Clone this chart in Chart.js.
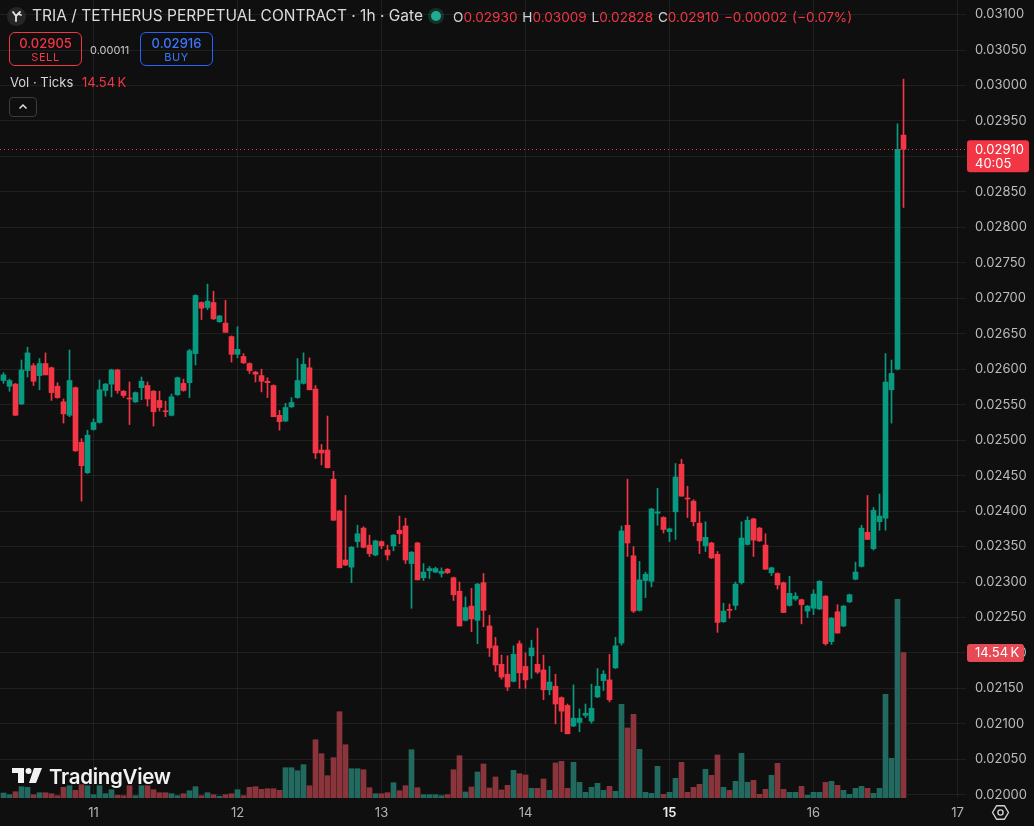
<!DOCTYPE html>
<html><head><meta charset="utf-8">
<script src="https://cdn.jsdelivr.net/npm/chart.js@4.4.1/dist/chart.umd.min.js"></script>
<style>
html,body{margin:0;padding:0;background:#0f0f0f;overflow:hidden;}
#wrap{position:relative;width:1034px;height:826px;}
#c{position:absolute;left:0;top:0;}
.ov{position:absolute;font-family:Inter,'Noto Sans',sans-serif;white-space:nowrap;}
.box{position:absolute;box-sizing:border-box;border-radius:6px;text-align:center;font-family:Inter,'Noto Sans',sans-serif;}
</style></head><body>
<div id="wrap">
<canvas id="c" width="1034" height="826"></canvas>

<div class="ov" style="left:7px;top:7px;width:19px;height:19px;border-radius:50%;background:#262626;">
 <svg width="19" height="19" viewBox="0 0 19 19"><path d="M6 5 L9 9 L9 14 M9 9 L13 5 M11 7 L14 8" stroke="#e6e6e6" stroke-width="1.8" fill="none" stroke-linecap="round"/></svg>
</div>
<div class="ov" style="left:32px;top:6px;font-size:15.5px;line-height:20px;color:#dcdcdc;">TRIA / TETHERUS PERPETUAL CONTRACT · 1h · Gate</div>
<div class="ov" style="left:431px;top:11px;width:10px;height:10px;border-radius:50%;background:#22ab94;box-shadow:0 0 0 3px rgba(34,171,148,0.22);"></div>
<div class="ov" id="ohlc" style="left:453px;top:7px;font-size:13.6px;line-height:20px;color:#d1d4dc;word-spacing:1px;"></div>

<div class="box" style="left:9px;top:32px;width:73px;height:34px;border:1px solid #f23645;">
 <div id="sellP" style="font-size:13px;font-weight:500;color:#f23645;line-height:14px;margin-top:3px;">0.02905</div>
 <div style="font-size:11px;color:#f23645;line-height:13px;margin-top:1px;letter-spacing:0.6px;">SELL</div>
</div>
<div class="ov" style="left:90px;top:43px;font-size:11px;line-height:14px;color:#c8c8c8;">0.00011</div>
<div class="box" style="left:140px;top:32px;width:73px;height:34px;border:1px solid #2962ff;">
 <div id="buyP" style="font-size:13px;font-weight:500;color:#3b78ff;line-height:14px;margin-top:3px;">0.02916</div>
 <div style="font-size:11px;color:#3b78ff;line-height:13px;margin-top:1px;letter-spacing:0.6px;">BUY</div>
</div>
<div class="ov" style="left:10px;top:74px;font-size:13px;line-height:16px;color:#d6d6d6;">Vol · Ticks <span id="volTxt" style="color:#f23645;margin-left:5px;"></span></div>
<div class="ov" style="left:9px;top:97px;width:28px;height:20px;box-sizing:border-box;border:1px solid #3c3c3c;border-radius:4px;">
 <svg width="26" height="18" viewBox="0 0 26 18"><path d="M9.5 10.5 L13 7 L16.5 10.5" stroke="#e0e0e0" stroke-width="1.5" fill="none"/></svg>
</div>

<div class="ov" style="left:12px;top:768px;">
 <svg width="32" height="16" viewBox="0 0 32 16"><path d="M0 0 H12 V15 H6 V5 H0 Z" fill="#f2f2f2"/><circle cx="16.5" cy="3" r="3" fill="#f2f2f2"/><path d="M22 0 H30 L24 15 H17 Z" fill="#f2f2f2"/></svg>
</div>
<div class="ov" style="left:49px;top:764px;font-size:20.5px;font-weight:600;line-height:26px;color:#f2f2f2;letter-spacing:-0.3px;">TradingView</div>

<div class="ov" style="left:991px;top:803px;">
 <svg width="19" height="19" viewBox="0 0 19 19"><path d="M5.5 2.8 H13.5 L17.5 9.5 L13.5 16.2 H5.5 L1.5 9.5 Z" stroke="#d0d0d0" stroke-width="1.4" fill="none" stroke-linejoin="round"/><circle cx="9.5" cy="9.5" r="2.6" stroke="#d0d0d0" stroke-width="1.4" fill="none"/></svg>
</div>
</div>

<script>
// ---- data (1h candles, first candle = day 10, 09:00) ----
const dayLabels = ['11','12','13','14','15','16','17'];
const firstCandleHour = 9;
const priceTicks = [0.02000,0.02050,0.02100,0.02150,0.02200,0.02250,0.02300,0.02350,0.02400,0.02450,0.02500,0.02550,0.02600,0.02650,0.02700,0.02750,0.02800,0.02850,0.02900,0.02950,0.03000,0.03050,0.03100];

const opens = [
0.02584,0.02576,0.02579,0.02551,0.02598,0.02605,0.02591,0.02608,0.02602,0.02576,
0.02554,0.02535,0.02574,0.02497,0.02454,0.02515,0.02525,0.02570,0.02579,0.02599,
0.02569,0.02559,0.02554,0.02574,0.02577,0.02569,0.02556,0.02541,0.02535,0.02564,
0.02580,0.02581,0.02622,0.02694,0.02687,0.02694,0.02667,0.02665,0.02646,0.02621,
0.02618,0.02608,0.02596,0.02591,0.02583,0.02577,0.02535,0.02527,0.02547,0.02560,
0.02580,0.02602,0.02572,0.02486,0.02486,0.02445,0.02400,0.02331,0.02321,0.02357,
0.02376,0.02352,0.02338,0.02357,0.02345,0.02351,0.02373,0.02379,0.02326,0.02355,
0.02306,0.02316,0.02314,0.02312,0.02318,0.02306,0.02287,0.02246,0.02266,0.02246,
0.02299,0.02238,0.02210,0.02184,0.02170,0.02160,0.02213,0.02181,0.02196,0.02184,
0.02176,0.02148,0.02153,0.02137,0.02126,0.02097,0.02102,0.02112,0.02104,0.02138,
0.02161,0.02162,0.02179,0.02214,0.02380,0.02337,0.02260,0.02302,0.02301,0.02397,
0.02391,0.02371,0.02399,0.02466,0.02418,0.02414,0.02383,0.02351,0.02355,0.02339,
0.02244,0.02261,0.02267,0.02299,0.02353,0.02389,0.02376,0.02352,0.02313,0.02312,
0.02299,0.02267,0.02276,0.02275,0.02259,0.02263,0.02262,0.02280,0.02216,0.02258,
0.02238,0.02272,0.02304,0.02322,0.02370,0.02347,0.02385,0.02390,0.02571,0.02600,
0.02930];
const highs = [
0.02595,0.02586,0.02580,0.02613,0.02631,0.02608,0.02615,0.02623,0.02603,0.02581,
0.02558,0.02627,0.02575,0.02502,0.02514,0.02530,0.02585,0.02580,0.02600,0.02600,
0.02570,0.02582,0.02568,0.02589,0.02582,0.02570,0.02569,0.02555,0.02565,0.02589,
0.02586,0.02628,0.02705,0.02695,0.02720,0.02710,0.02676,0.02697,0.02647,0.02660,
0.02622,0.02609,0.02597,0.02600,0.02588,0.02578,0.02542,0.02552,0.02560,0.02615,
0.02623,0.02616,0.02577,0.02494,0.02534,0.02456,0.02401,0.02422,0.02350,0.02380,
0.02378,0.02366,0.02359,0.02358,0.02352,0.02367,0.02393,0.02390,0.02343,0.02356,
0.02326,0.02322,0.02321,0.02320,0.02319,0.02307,0.02300,0.02279,0.02291,0.02298,
0.02312,0.02253,0.02222,0.02197,0.02196,0.02210,0.02217,0.02200,0.02218,0.02235,
0.02197,0.02181,0.02170,0.02138,0.02128,0.02155,0.02121,0.02128,0.02156,0.02178,
0.02175,0.02198,0.02222,0.02379,0.02445,0.02350,0.02329,0.02314,0.02404,0.02432,
0.02392,0.02376,0.02467,0.02473,0.02435,0.02416,0.02399,0.02385,0.02356,0.02343,
0.02270,0.02269,0.02300,0.02385,0.02392,0.02390,0.02377,0.02368,0.02321,0.02313,
0.02300,0.02308,0.02285,0.02276,0.02267,0.02289,0.02302,0.02281,0.02250,0.02268,
0.02267,0.02283,0.02328,0.02380,0.02422,0.02405,0.02424,0.02622,0.02613,0.02946,
0.03009];
const lows = [
0.02580,0.02569,0.02535,0.02550,0.02589,0.02577,0.02571,0.02592,0.02556,0.02559,
0.02524,0.02533,0.02484,0.02414,0.02453,0.02514,0.02524,0.02562,0.02561,0.02566,
0.02560,0.02522,0.02553,0.02557,0.02548,0.02520,0.02541,0.02533,0.02534,0.02563,
0.02569,0.02560,0.02606,0.02670,0.02684,0.02670,0.02666,0.02652,0.02610,0.02616,
0.02608,0.02594,0.02582,0.02568,0.02560,0.02533,0.02514,0.02526,0.02546,0.02559,
0.02579,0.02571,0.02474,0.02465,0.02461,0.02387,0.02320,0.02323,0.02299,0.02349,
0.02348,0.02336,0.02337,0.02347,0.02331,0.02344,0.02354,0.02326,0.02263,0.02303,
0.02302,0.02305,0.02313,0.02307,0.02312,0.02274,0.02238,0.02245,0.02230,0.02213,
0.02237,0.02195,0.02174,0.02163,0.02147,0.02159,0.02150,0.02150,0.02164,0.02171,
0.02134,0.02141,0.02100,0.02089,0.02086,0.02096,0.02089,0.02109,0.02101,0.02137,
0.02147,0.02131,0.02178,0.02211,0.02336,0.02257,0.02259,0.02278,0.02293,0.02380,
0.02369,0.02357,0.02360,0.02421,0.02391,0.02379,0.02340,0.02343,0.02333,0.02229,
0.02243,0.02249,0.02261,0.02297,0.02352,0.02336,0.02357,0.02318,0.02309,0.02290,
0.02257,0.02266,0.02274,0.02241,0.02250,0.02254,0.02261,0.02211,0.02212,0.02228,
0.02237,0.02271,0.02303,0.02321,0.02360,0.02345,0.02373,0.02373,0.02524,0.02599,
0.02828];
const closes = [
0.02592,0.02584,0.02535,0.02599,0.02623,0.02583,0.02608,0.02592,0.02567,0.02560,
0.02537,0.02584,0.02485,0.02464,0.02507,0.02525,0.02571,0.02579,0.02599,0.02570,
0.02563,0.02558,0.02567,0.02583,0.02558,0.02540,0.02546,0.02540,0.02561,0.02588,
0.02570,0.02626,0.02704,0.02686,0.02696,0.02671,0.02675,0.02652,0.02621,0.02628,
0.02609,0.02598,0.02593,0.02583,0.02581,0.02533,0.02526,0.02546,0.02553,0.02584,
0.02607,0.02571,0.02482,0.02482,0.02461,0.02387,0.02320,0.02324,0.02349,0.02368,
0.02349,0.02340,0.02358,0.02351,0.02338,0.02366,0.02368,0.02331,0.02342,0.02303,
0.02314,0.02319,0.02319,0.02315,0.02313,0.02282,0.02238,0.02264,0.02248,0.02297,
0.02260,0.02207,0.02183,0.02166,0.02152,0.02198,0.02172,0.02162,0.02207,0.02173,
0.02148,0.02159,0.02128,0.02118,0.02086,0.02108,0.02108,0.02115,0.02122,0.02153,
0.02170,0.02134,0.02210,0.02372,0.02355,0.02259,0.02303,0.02311,0.02403,0.02399,
0.02374,0.02375,0.02448,0.02421,0.02417,0.02385,0.02358,0.02363,0.02334,0.02243,
0.02259,0.02260,0.02297,0.02362,0.02387,0.02359,0.02358,0.02318,0.02320,0.02296,
0.02257,0.02284,0.02280,0.02268,0.02266,0.02283,0.02301,0.02213,0.02249,0.02228,
0.02266,0.02282,0.02314,0.02376,0.02360,0.02401,0.02393,0.02582,0.02594,0.02910,
0.02910];
const volumes = [
500,330,630,1130,1070,330,530,530,430,230,
1070,1230,770,1330,1230,330,1230,430,830,270,
230,1230,230,1230,1230,830,530,530,430,230,
430,730,1130,230,530,330,170,330,430,830,
230,1070,1130,870,930,930,770,3030,3030,2730,
3330,1230,5830,4430,2230,4030,8630,5330,2930,2930,
2830,1030,430,430,530,1530,730,1230,4830,1030,
330,330,330,230,330,2830,4230,600,1100,2600,
3400,1000,2100,800,1270,2770,2430,2300,970,970,
1900,770,3500,3670,970,3570,1570,570,1070,1470,
770,1170,670,9370,7000,8370,4870,570,470,3170,
370,570,1970,3570,570,1070,1370,2870,2270,4300,
1070,770,1670,4470,1570,1770,370,870,2270,3470,
870,570,570,1170,270,570,570,1570,1670,1270,
770,370,970,1170,970,470,970,10370,3970,19870,
14540];
const countdown = '40:05';

// ---- styles ----
const UP = '#089981', DOWN = '#f23645';
const VUP = '#22695f', VDOWN = '#8a353b';
const FONT = 'Inter, "Noto Sans", sans-serif';
const last = closes.length - 1;
const isUp = i => closes[i] >= opens[i];

// header texts
const f5 = v => v.toFixed(5);
document.getElementById('ohlc').innerHTML =
  'O<span style="color:#f23645">' + f5(opens[last]) + '</span> ' +
  'H<span style="color:#f23645">' + f5(highs[last]) + '</span> ' +
  'L<span style="color:#f23645">' + f5(lows[last]) + '</span> ' +
  'C<span style="color:#f23645">' + f5(closes[last]) + '</span> ' +
  '<span style="color:#f23645">\u22120.00002 (\u22120.07%)</span>';
const volK = (volumes[last] / 1000).toFixed(2) + '\u202fK';
document.getElementById('volTxt').textContent = volK;

const idx = opens.map((_, i) => i);
const bodies = idx.map(i => ({x: i, y: [opens[i], closes[i]]}));
const wicks = idx.map(i => ({x: i, y: [lows[i], highs[i]]}));
const vols = idx.map(i => ({x: i, y: volumes[i]}));
const dayTickPos = dayLabels.map((_, k) => (24 - firstCandleHour) + 24 * k);

const lastPricePlugin = {
  id: 'lastPrice',
  beforeDraw(chart) {
    const c = chart.ctx;
    c.save(); c.fillStyle = '#0f0f0f'; c.fillRect(0, 0, chart.width, chart.height); c.restore();
  },
  afterDatasetsDraw(chart) {
    const c = chart.ctx, a = chart.chartArea, y = Math.round(chart.scales.y.getPixelForValue(closes[last])) + 0.5;
    c.save();
    c.strokeStyle = '#f23645'; c.lineWidth = 1; c.setLineDash([1, 3]);
    c.beginPath(); c.moveTo(a.left, y); c.lineTo(a.right, y); c.stroke();
    c.restore();
  },
  afterDraw(chart) {
    const c = chart.ctx, a = chart.chartArea;
    const yP = chart.scales.y.getPixelForValue(closes[last]);
    const yV = chart.scales.yv.getPixelForValue(volumes[last]);
    c.save();
    const rr = (x, y, w, h, r, col) => { c.fillStyle = col; c.beginPath(); c.roundRect(x, y, w, h, r); c.fill(); };
    rr(a.right + 1, yP - 9, 62, 32, 3, '#f23645');
    c.fillStyle = '#ffffff'; c.font = '13px ' + FONT; c.textBaseline = 'middle'; c.textAlign = 'left';
    c.fillText(f5(closes[last]), a.right + 9, yP + 0.5);
    c.fillText(countdown, a.right + 9, yP + 14.5);
    rr(a.right + 1, yV - 8.5, 57, 18, 3, '#e64a55');
    c.fillStyle = '#ffffff';
    c.fillText(volK, a.right + 9, yV + 0.5);
    c.restore();
  }
};

const noPad = s => { s.paddingTop = 0; s.paddingBottom = 0; s.paddingLeft = 0; s.paddingRight = 0; };

new Chart(document.getElementById('c'), {
  type: 'bar',
  data: {
    datasets: [
      {label: 'vol', data: vols, yAxisID: 'yv', order: 3, grouped: false, barThickness: 5,
        backgroundColor: idx.map(i => isUp(i) ? VUP : VDOWN), borderWidth: 0},
      {label: 'wick', data: wicks, yAxisID: 'y', order: 2, grouped: false, barThickness: 1,
        backgroundColor: idx.map(i => isUp(i) ? UP : DOWN), borderWidth: 0, minBarLength: 1},
      {label: 'body', data: bodies, yAxisID: 'y', order: 1, grouped: false, barThickness: 5,
        backgroundColor: idx.map(i => isUp(i) ? UP : DOWN), borderWidth: 0, minBarLength: 1}
    ]
  },
  options: {
    responsive: false, animation: false, devicePixelRatio: 1,
    layout: {padding: 0},
    plugins: {legend: {display: false}, tooltip: {enabled: false}},
    scales: {
      x: {
        type: 'linear', offset: false, min: -3.5 / 6, max: 161 - 3.5 / 6,
        grid: {offset: false, color: 'rgba(255,255,255,0.065)', drawTicks: false},
        border: {display: false},
        afterBuildTicks: ax => { ax.ticks = dayTickPos.map(v => ({value: v})); },
        afterFit: s => { s.height = 28; noPad(s); },
        ticks: {
          autoSkip: false, maxRotation: 0, padding: 7,
          callback: (v, k) => dayLabels[k],
          font: ctx => ({family: FONT, size: 13, weight: (ctx.tick && dayLabels[dayTickPos.indexOf(ctx.tick.value)] === '15') ? '600' : '400'}),
          color: ctx => (ctx.tick && dayLabels[dayTickPos.indexOf(ctx.tick.value)] === '15') ? '#ececec' : '#b4b4b4'
        }
      },
      y: {
        position: 'right', min: 0.019955, max: 0.031205,
        grid: {color: 'rgba(255,255,255,0.065)', drawTicks: false},
        border: {display: false},
        afterBuildTicks: ax => { ax.ticks = priceTicks.map(v => ({value: v})); },
        afterFit: s => { s.width = 68; noPad(s); },
        ticks: {padding: 9, color: '#bcbcbc', font: {family: FONT, size: 13}, callback: v => v.toFixed(5)}
      },
      yv: {display: false, min: 0, max: 79800}
    }
  },
  plugins: [lastPricePlugin]
});
</script>
</body></html>
